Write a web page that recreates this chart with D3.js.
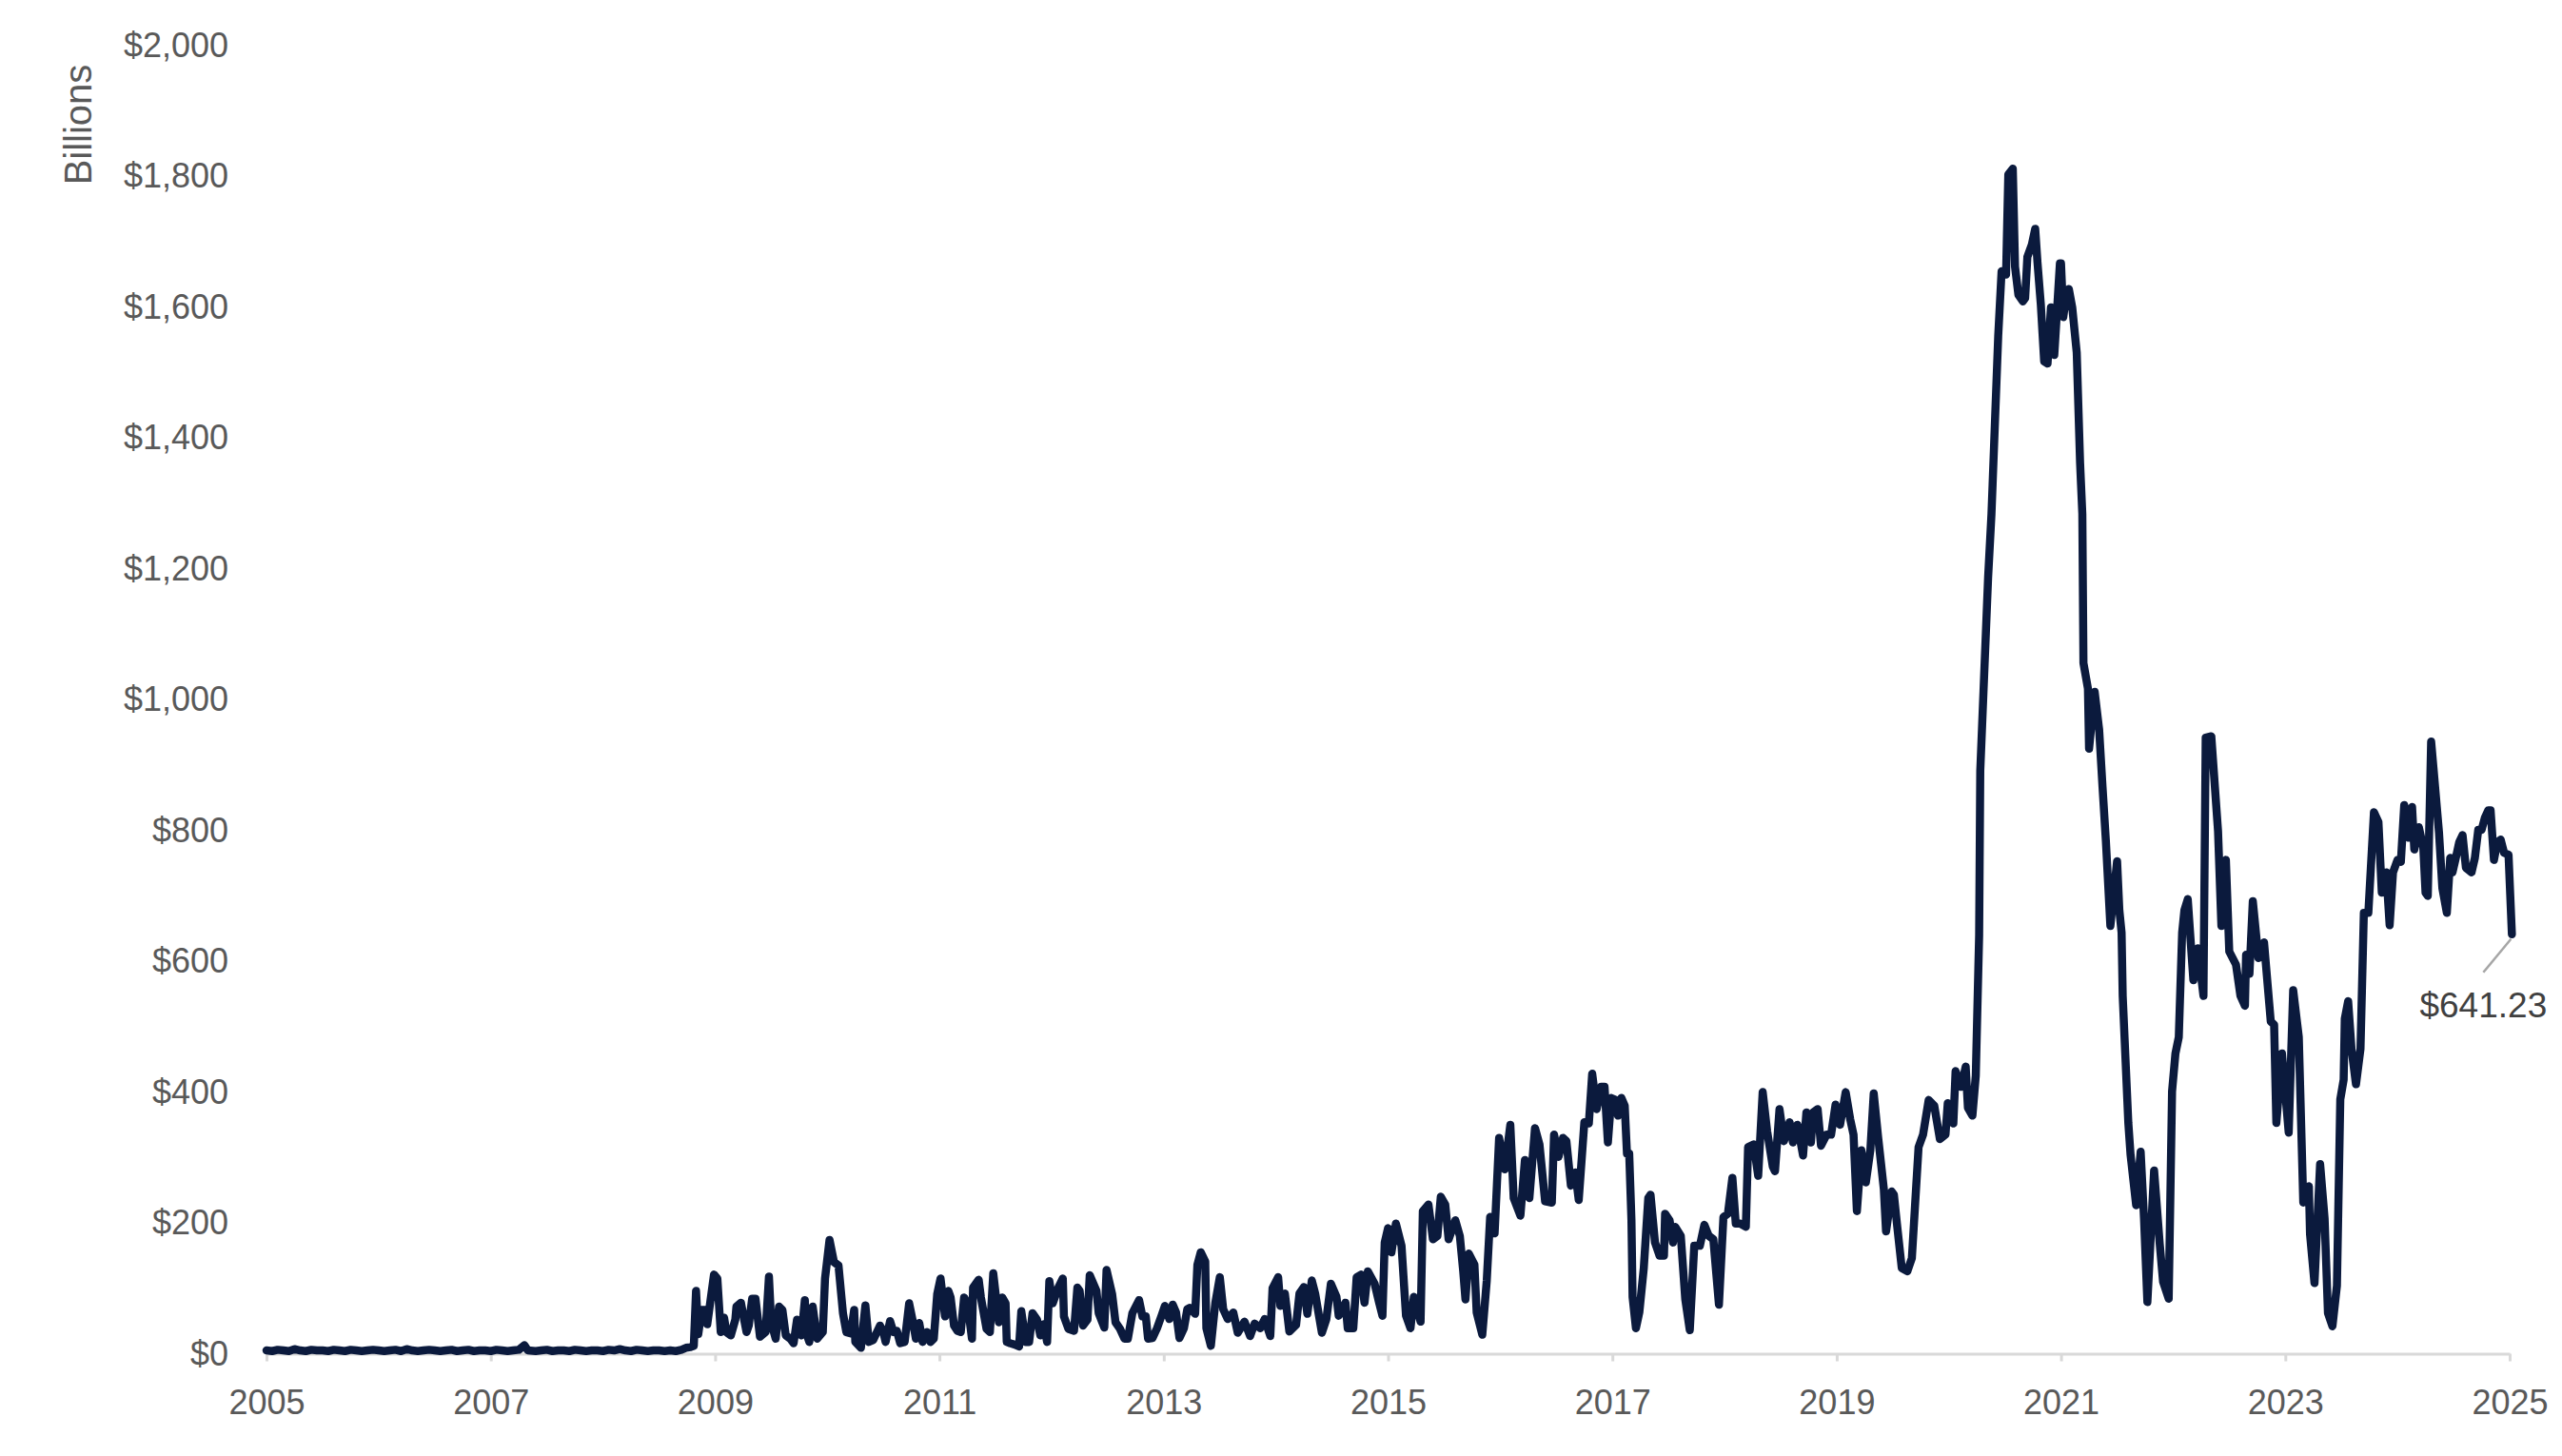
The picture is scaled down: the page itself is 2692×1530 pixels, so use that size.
<!DOCTYPE html>
<html>
<head>
<meta charset="utf-8">
<script src="https://cdn.jsdelivr.net/npm/d3@7"></script>
<style>
html,body{margin:0;padding:0;background:#ffffff;}
svg{display:block;}
</style>
</head>
<body>
<svg id="chart" width="2692" height="1530"></svg>
<script>
// ---- data (decimal year, $ billions) ----
const dates = [
2005.00,2005.05,2005.10,2005.15,2005.20,2005.25,2005.30,2005.35,2005.40,2005.45,
2005.50,2005.55,2005.60,2005.65,2005.70,2005.75,2005.80,2005.85,2005.90,2005.95,
2006.00,2006.05,2006.10,2006.15,2006.20,2006.25,2006.30,2006.35,2006.40,2006.45,
2006.50,2006.55,2006.60,2006.65,2006.70,2006.75,2006.80,2006.85,2006.90,2006.95,
2007.00,2007.05,2007.10,2007.15,2007.20,2007.25,2007.30,2007.33,2007.40,2007.45,
2007.50,2007.55,2007.60,2007.65,2007.70,2007.75,2007.80,2007.85,2007.90,2007.95,
2008.00,2008.05,2008.10,2008.15,2008.20,2008.25,2008.30,2008.35,2008.40,2008.45,
2008.50,2008.55,2008.60,2008.65,2008.70,2008.74,2008.78,2008.81,2008.83,2008.85,
2008.88,2008.91,2008.93,2008.99,2009.02,2009.05,2009.08,2009.10,2009.14,2009.18,
2009.19,2009.23,2009.28,2009.30,2009.33,2009.36,2009.40,2009.45,2009.48,2009.50,
2009.54,2009.57,2009.60,2009.63,2009.67,2009.70,2009.73,2009.77,2009.80,2009.81,
2009.84,2009.87,2009.91,2009.96,2009.98,2010.02,2010.06,2010.10,2010.14,2010.17,
2010.21,2010.24,2010.25,2010.30,2010.34,2010.37,2010.41,2010.47,2010.50,2010.52,
2010.56,2010.59,2010.62,2010.65,2010.69,2010.73,2010.76,2010.79,2010.82,2010.85,
2010.89,2010.92,2010.95,2010.98,2011.01,2011.05,2011.08,2011.10,2011.13,2011.16,
2011.19,2011.22,2011.25,2011.29,2011.30,2011.35,2011.37,2011.42,2011.45,2011.48,
2011.53,2011.56,2011.59,2011.60,2011.63,2011.67,2011.71,2011.73,2011.77,2011.80,
2011.83,2011.87,2011.90,2011.93,2011.96,2011.98,2012.01,2012.06,2012.10,2012.11,
2012.15,2012.20,2012.23,2012.25,2012.28,2012.32,2012.34,2012.40,2012.42,2012.47,
2012.49,2012.54,2012.57,2012.61,2012.65,2012.68,2012.72,2012.78,2012.81,2012.84,
2012.86,2012.90,2012.94,2012.98,2013.01,2013.05,2013.08,2013.11,2013.14,2013.18,
2013.21,2013.23,2013.28,2013.30,2013.33,2013.37,2013.38,2013.42,2013.46,2013.50,
2013.53,2013.57,2013.62,2013.66,2013.72,2013.77,2013.81,2013.86,2013.90,2013.95,
2013.97,2014.02,2014.04,2014.08,2014.12,2014.18,2014.21,2014.25,2014.28,2014.32,
2014.35,2014.41,2014.45,2014.49,2014.54,2014.56,2014.62,2014.64,2014.69,2014.72,
2014.76,2014.79,2014.82,2014.88,2014.92,2014.95,2014.97,2015.00,2015.03,2015.07,
2015.12,2015.16,2015.20,2015.23,2015.29,2015.31,2015.36,2015.40,2015.44,2015.47,
2015.51,2015.54,2015.60,2015.64,2015.67,2015.69,2015.72,2015.77,2015.79,2015.84,
2015.88,2015.91,2015.95,2015.99,2016.04,2016.09,2016.12,2016.18,2016.22,2016.26,
2016.31,2016.35,2016.40,2016.46,2016.48,2016.52,2016.56,2016.59,2016.63,2016.67,
2016.70,2016.75,2016.79,2016.82,2016.86,2016.90,2016.93,2016.96,2016.99,2017.03,
2017.05,2017.08,2017.11,2017.13,2017.15,2017.17,2017.18,2017.21,2017.24,2017.28,
2017.32,2017.34,2017.38,2017.42,2017.46,2017.47,2017.51,2017.54,2017.56,2017.61,
2017.65,2017.69,2017.73,2017.78,2017.82,2017.86,2017.90,2017.95,2017.99,2018.03,
2018.07,2018.10,2018.14,2018.19,2018.21,2018.26,2018.30,2018.34,2018.38,2018.43,
2018.45,2018.49,2018.53,2018.58,2018.61,2018.65,2018.70,2018.73,2018.77,2018.79,
2018.83,2018.86,2018.91,2018.95,2018.99,2019.03,2019.08,2019.12,2019.15,2019.18,
2019.22,2019.26,2019.30,2019.33,2019.37,2019.42,2019.44,2019.49,2019.51,2019.54,
2019.58,2019.63,2019.67,2019.73,2019.77,2019.82,2019.87,2019.92,2019.97,2019.99,
2020.04,2020.06,2020.11,2020.15,2020.17,2020.21,2020.24,2020.27,2020.28,2020.35,
2020.38,2020.44,2020.47,2020.51,2020.53,2020.57,2020.59,2020.62,2020.66,2020.68,
2020.70,2020.74,2020.77,2020.79,2020.82,2020.85,2020.88,2020.91,2020.94,2020.99,
2021.00,2021.02,2021.05,2021.07,2021.10,2021.14,2021.17,2021.19,2021.20,2021.24,
2021.25,2021.30,2021.34,2021.37,2021.40,2021.44,2021.50,2021.52,2021.54,2021.55,
2021.60,2021.62,2021.67,2021.71,2021.74,2021.77,2021.83,2021.88,2021.91,2021.96,
2021.99,2022.02,2022.05,2022.08,2022.10,2022.13,2022.18,2022.22,2022.27,2022.29,
2022.34,2022.40,2022.43,2022.47,2022.50,2022.56,2022.60,2022.64,2022.65,2022.68,
2022.71,2022.76,2022.81,2022.87,2022.90,2022.92,2022.97,2023.03,2023.07,2023.12,
2023.16,2023.21,2023.22,2023.26,2023.31,2023.35,2023.38,2023.42,2023.46,2023.49,
2023.52,2023.53,2023.56,2023.59,2023.63,2023.67,2023.70,2023.74,2023.79,2023.83,
2023.86,2023.90,2023.93,2023.96,2024.00,2024.03,2024.06,2024.10,2024.13,2024.15,
2024.19,2024.23,2024.25,2024.27,2024.30,2024.32,2024.37,2024.40,2024.44,2024.47,
2024.49,2024.52,2024.55,2024.58,2024.61,2024.66,2024.69,2024.72,2024.75,2024.78,
2024.81,2024.83,2024.86,2024.89,2024.92,2024.95,2024.99,2025.02
];
const balances = [
5,4,6,5,4,7,5,4,6,5,
5,4,6,5,4,6,5,4,5,6,
5,4,5,6,4,7,5,4,5,6,
5,4,5,6,4,5,6,4,5,5,
4,6,5,4,5,6,13,5,4,5,
6,4,5,5,4,6,5,4,5,5,
4,6,5,7,5,4,6,5,4,5,
5,4,5,4,6,9,10,12,96,30,
67,67,45,121,115,33,55,33,28,52,
72,78,33,43,84,84,26,33,118,48,
23,72,67,28,23,16,52,28,82,33,
18,72,23,33,115,174,140,135,62,33,
31,67,18,9,74,18,21,43,33,18,
50,33,35,16,18,77,52,23,47,18,
33,18,23,91,115,57,96,86,43,35,
33,86,77,23,101,113,86,38,33,123,
48,86,77,18,16,14,11,65,18,18,
62,52,28,45,18,111,77,101,115,57,
38,35,101,96,43,52,120,96,62,40,
128,91,48,38,23,23,62,82,57,57,
23,24,39,58,73,53,75,63,24,39,
68,70,61,136,155,141,39,12,78,117,
68,53,63,32,49,27,46,39,53,27,
100,117,73,92,34,44,92,102,61,112,
92,32,53,107,87,58,78,39,39,117,
121,78,126,107,78,58,170,192,155,199,
165,58,39,87,49,218,228,175,180,240,
228,175,204,180,126,83,153,136,63,29,
112,209,184,330,282,350,238,211,296,238,
345,320,233,231,335,301,330,325,257,277,
235,354,352,428,374,408,408,323,391,388,
364,391,379,306,306,204,87,39,63,131,
238,243,170,150,150,214,204,170,194,180,
83,36,165,165,197,180,175,75,209,214,
269,199,199,194,316,320,272,400,340,286,
279,374,325,354,323,350,303,369,323,369,
374,318,335,335,381,350,400,359,335,218,
311,262,311,398,330,252,187,248,243,194,
131,126,146,316,335,388,379,328,335,383,
352,432,408,439,376,364,425,640,891,1187,
1284,1556,1655,1650,1803,1812,1662,1619,1609,1614,
1677,1696,1720,1669,1604,1517,1514,1600,1527,1667,
1667,1585,1623,1628,1600,1531,1362,1284,1056,1017,
925,1012,954,867,784,654,753,678,644,547,
353,304,227,309,207,79,280,168,110,84,
401,459,484,644,678,695,571,620,547,942,
944,799,654,755,615,595,547,532,610,581,
692,605,629,508,503,353,459,338,556,484,
231,256,183,108,290,207,62,42,104,389,
419,512,539,466,412,466,674,674,828,813,
705,736,655,736,755,752,839,789,836,771,
805,774,705,700,936,897,797,712,674,758,
736,758,782,793,743,736,758,801,801,820,
831,831,755,782,786,766,763,641.23
];
const yTickValues = [0,200,400,600,800,1000,1200,1400,1600,1800,2000];
const xTickValues = [2005,2007,2009,2011,2013,2015,2017,2019,2021,2023,2025];
const xTickLabels = ["2005","2007","2009","2011","2013","2015","2017","2019","2021","2023","2025"];
const yAxisTitle = "Billions";
const endLabel = "$641.23";

// ---- drawing ----
const FONT = "'Liberation Sans', Arial, sans-serif";
const svg = d3.select("#chart");
const x = d3.scaleLinear().domain([2005, 2025]).range([280, 2637]);
const y = d3.scaleLinear().domain([0, 2000]).range([1422.5, 48]);

const series = dates.map((d, i) => ({date: d, value: balances[i]}));

// y axis (labels only)
const gy = svg.append("g").attr("transform", "translate(280,0)")
  .call(d3.axisLeft(y).tickValues(yTickValues)
    .tickFormat(d => "$" + d3.format(",")(d))
    .tickSize(0).tickPadding(40));
gy.select(".domain").remove();
gy.selectAll("text").attr("font-family", FONT).attr("font-size", 36).attr("fill", "#595959");

// x axis
const gx = svg.append("g").attr("transform", "translate(0,1422.5)")
  .call(d3.axisBottom(x).tickValues(xTickValues)
    .tickFormat((d, i) => xTickLabels[i])
    .tickSize(8).tickSizeOuter(0).tickPadding(30));
gx.select(".domain").attr("stroke", "#d9d9d9").attr("stroke-width", 3);
gx.selectAll(".tick line").attr("stroke", "#d9d9d9").attr("stroke-width", 3);
gx.selectAll("text").attr("font-family", FONT).attr("font-size", 36).attr("fill", "#595959");

// y axis title
svg.append("text")
  .attr("transform", "translate(96,131) rotate(-90)")
  .attr("text-anchor", "middle")
  .attr("font-family", FONT).attr("font-size", 40).attr("fill", "#595959")
  .text(yAxisTitle);

// line
const line = d3.line().x(d => x(d.date)).y(d => y(d.value));
svg.append("path")
  .datum(series)
  .attr("d", line)
  .attr("fill", "none")
  .attr("stroke", "#0b1a3d")
  .attr("stroke-width", 8.5)
  .attr("stroke-linejoin", "round")
  .attr("stroke-linecap", "round");

// end annotation
const last = series[series.length - 1];
const lx = x(last.date), ly = y(last.value);
svg.append("line")
  .attr("x1", lx - 1).attr("y1", ly + 5)
  .attr("x2", lx - 30).attr("y2", ly + 40)
  .attr("stroke", "#a6a6a6").attr("stroke-width", 2.5);
svg.append("text")
  .attr("x", lx - 30).attr("y", ly + 87)
  .attr("text-anchor", "middle")
  .attr("font-family", FONT).attr("font-size", 37).attr("fill", "#404040")
  .text(endLabel);
</script>
</body>
</html>
